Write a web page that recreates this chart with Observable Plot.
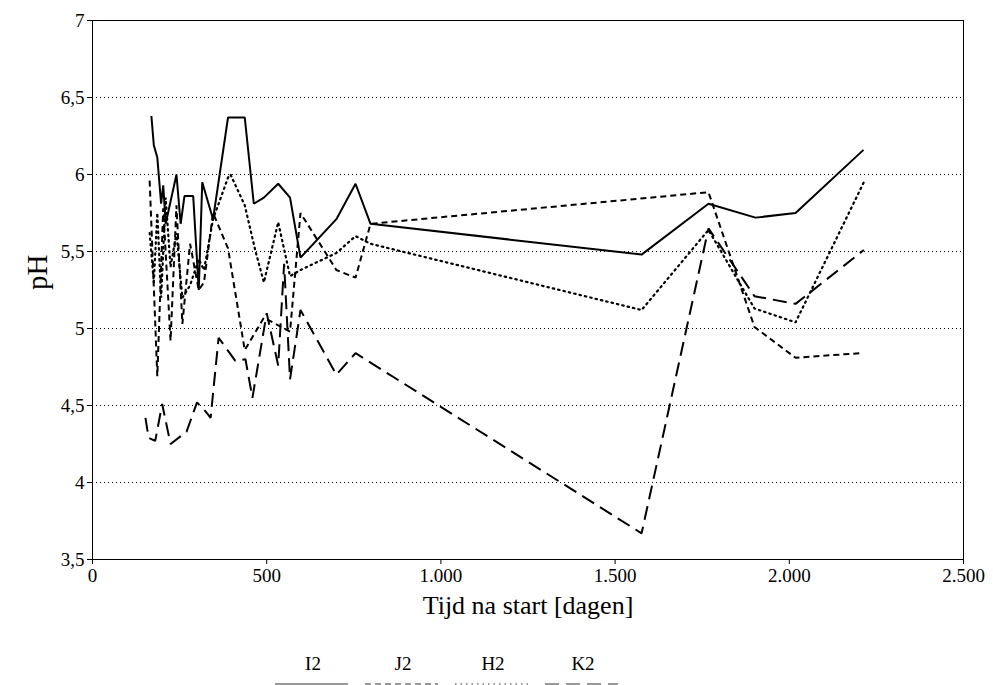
<!DOCTYPE html>
<html><head><meta charset="utf-8">
<script src="https://cdn.jsdelivr.net/npm/d3@7"></script>
<script src="https://cdn.jsdelivr.net/npm/@observablehq/plot@0.6"></script>
<style>
body{margin:0;background:#fff;font-family:"Liberation Serif",serif;}
#wrap{position:relative;width:993px;height:685px;overflow:hidden;background:#fff}
#chart svg, #chart svg text{font-family:"Liberation Serif",serif !important;}
.leg{position:absolute;top:654px;font-size:19px;line-height:1;transform:translateX(-50%);color:#000}
#legsvg{position:absolute;left:0;top:681px}
</style></head><body><div id="wrap"><div id="chart"></div></div>
<script>
// ---- data ----
const seriesNames = ["I2", "J2", "H2", "K2"];

const daysI2 = [169,176,186,197,203,210,241,253,264,289,305,315,346,389,437,463,492,533,567,597,700,755,798,1576,1768,1903,2018,2213];
const phI2   = [6.38,6.19,6.11,5.81,5.93,5.68,6.00,5.68,5.86,5.86,5.25,5.95,5.71,6.37,6.37,5.81,5.85,5.94,5.85,5.46,5.71,5.94,5.68,5.48,5.81,5.72,5.75,6.16];

const daysJ2 = [164,186,203,224,241,258,280,305,320,346,389,437,492,567,597,700,755,798,1768,1900,2018,2204];
const phJ2   = [5.96,4.69,5.78,4.92,5.80,5.03,5.55,5.25,5.30,5.75,5.52,4.86,5.07,4.98,5.75,5.38,5.33,5.68,5.885,5.01,4.81,4.84];

const daysH2 = [164,176,186,197,210,224,241,258,280,305,320,346,389,396,437,468,492,533,567,597,700,755,798,1576,1768,1900,2018,2214];
const phH2   = [5.62,5.30,5.75,5.20,5.85,5.40,5.62,5.20,5.28,5.45,5.38,5.71,5.98,6.00,5.80,5.50,5.30,5.69,5.34,5.38,5.49,5.60,5.55,5.12,5.64,5.13,5.04,5.95];

const daysK2 = [152,161,180,200,224,270,300,325,339,362,410,439,459,500,533,550,567,597,700,755,1576,1768,1900,2018,2214];
const phK2   = [4.42,4.29,4.27,4.51,4.25,4.33,4.52,4.46,4.42,4.94,4.79,4.80,4.55,5.10,4.76,5.42,4.67,5.12,4.70,4.84,3.67,5.65,5.21,5.16,5.51];

const xTicks = [0, 500, 1000, 1500, 2000, 2500];
const yTicks = [3.5, 4, 4.5, 5, 5.5, 6, 6.5, 7];
const gridY  = [4, 4.5, 5, 5.5, 6, 6.5];

// ---- build ----
const nl = d3.formatLocale({decimal: ",", thousands: ".", grouping: [3], currency: ["€", ""]});
const fx = nl.format(",d");
const fy = nl.format(",");

const dash = {I2: null, J2: "6,4", H2: "1.5,4", K2: "14,7"};
const rows = (name, days, ph) => days.map((d, i) => ({series: name, day: d, ph: ph[i]}));
const sets = {
  I2: rows("I2", daysI2, phI2),
  J2: rows("J2", daysJ2, phJ2),
  H2: rows("H2", daysH2, phH2),
  K2: rows("K2", daysK2, phK2)
};

const lineMarks = seriesNames.map(n => Plot.line(sets[n], {
  x: "day", y: "ph", stroke: "black", strokeWidth: n === "H2" ? 2.2 : 2,
  strokeDasharray: dash[n], strokeLinecap: n === "H2" ? "round" : "butt", strokeLinejoin: "miter"
}));

const chart = Plot.plot({
  width: 993, height: 640,
  marginLeft: 92, marginRight: 30, marginTop: 20, marginBottom: 81,
  style: {fontFamily: "'Liberation Serif', serif", fontSize: "18px", background: "white", color: "black"},
  x: {domain: [0, 2500], ticks: xTicks, tickFormat: fx, label: null},
  y: {domain: [3.5, 7], ticks: yTicks, tickFormat: fy, label: null},
  marks: [
    Plot.ruleY(gridY, {stroke: "black", strokeWidth: 1, strokeDasharray: "1,3"}),
    ...lineMarks,
    Plot.frame({stroke: "black", strokeWidth: 1}),
    Plot.axisX({ticks: xTicks, tickFormat: fx, tickSize: 5, tickPadding: 4, label: null, fontSize: 19}),
    Plot.axisY({ticks: yTicks, tickFormat: fy, tickSize: 5, tickPadding: 3, label: null, fontSize: 19}),
    Plot.text(["Tijd na start [dagen]"], {frameAnchor: "bottom", dy: 54, fontSize: 26, fill: "black"}),
    Plot.text(["pH"], {frameAnchor: "left", dx: -55, rotate: -90, fontSize: 29, fill: "black"})
  ]
});
document.getElementById("chart").appendChild(chart);

// ---- legend ----
const wrap = document.getElementById("wrap");
const legSvg = d3.select(wrap).append("svg").attr("id", "legsvg").attr("width", 993).attr("height", 8);
seriesNames.forEach((n, i) => {
  const cx = 313 + i * 90;
  const div = document.createElement("div");
  div.className = "leg";
  div.style.left = cx + "px";
  div.textContent = n;
  wrap.appendChild(div);
  legSvg.append("line").attr("x1", cx - 38).attr("x2", cx + 35).attr("y1", 3).attr("y2", 3)
    .attr("stroke", "#999").attr("stroke-width", 2).attr("stroke-dasharray", dash[n]);
});
</script></body></html>
